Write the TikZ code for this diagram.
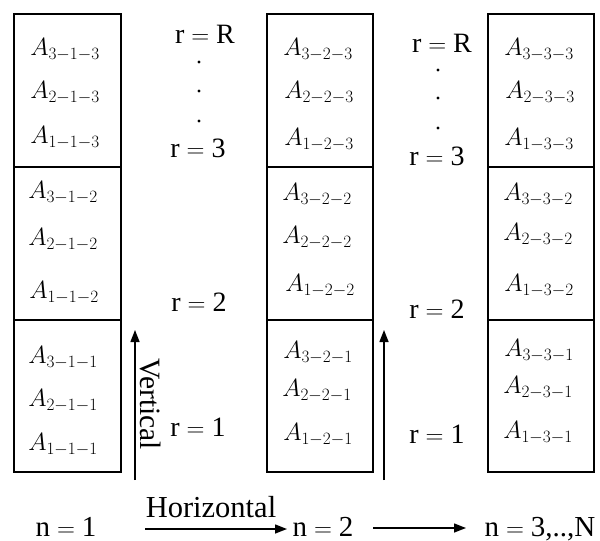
\documentclass[tikz,border=0pt]{standalone}
\usepackage{fontspec}
\setmainfont{Liberation Serif}
\usetikzlibrary{arrows.meta}
\tikzset{
  box/.style={draw, line width=2.7pt},
  cell/.style={font=\fontsize{23.5}{26}\selectfont, inner sep=0pt},
  lab/.style={font=\fontsize{28}{31}\selectfont, inner sep=0pt, anchor=base},
  big/.style={font=\fontsize{29}{32}\selectfont, inner sep=0pt, anchor=base},
  dotmark/.style={circle, fill=black, inner sep=0pt, minimum size=3.4pt},
  arr/.style={line width=1.4pt, -{Triangle[length=12pt,width=9pt]}},
}
\begin{document}
\begin{tikzpicture}[x=1pt,y=-1pt]
\useasboundingbox (0,0) rectangle (600,541);
% boxes
\foreach \l/\r in {14/121, 267/373, 488/594}{
  \draw[box] (\l,14) rectangle (\r,472);
  \draw[box] (\l,167) -- (\r,167);
  \draw[box] (\l,320) -- (\r,320);
}
% box 1 cells
\node[cell] (a313) at (65,50) {$A_{3-1-3}$};
\node[cell] (a213) at (65,93) {$A_{2-1-3}$};
\node[cell] (a113) at (65,138) {$A_{1-1-3}$};
\node[cell] (a312) at (63,193) {$A_{3-1-2}$};
\node[cell] (a212) at (63,240) {$A_{2-1-2}$};
\node[cell] (a112) at (64,293) {$A_{1-1-2}$};
\node[cell] (a311) at (63,358) {$A_{3-1-1}$};
\node[cell] (a211) at (63,401) {$A_{2-1-1}$};
\node[cell] (a111) at (63,445) {$A_{1-1-1}$};
% box 2 cells
\node[cell] (a323) at (318,50) {$A_{3-2-3}$};
\node[cell] (a223) at (319,93) {$A_{2-2-3}$};
\node[cell] (a123) at (319,140) {$A_{1-2-3}$};
\node[cell] (a322) at (317,195) {$A_{3-2-2}$};
\node[cell] (a222) at (317,238) {$A_{2-2-2}$};
\node[cell] (a122) at (320,286) {$A_{1-2-2}$};
\node[cell] (a321) at (318,353) {$A_{3-2-1}$};
\node[cell] (a221) at (317,391) {$A_{2-2-1}$};
\node[cell] (a121) at (318,435) {$A_{1-2-1}$};
% box 3 cells
\node[cell] (a333) at (539,50) {$A_{3-3-3}$};
\node[cell] (a233) at (540,93) {$A_{2-3-3}$};
\node[cell] (a133) at (539,140) {$A_{1-3-3}$};
\node[cell] (a332) at (538,195) {$A_{3-3-2}$};
\node[cell] (a232) at (538,235) {$A_{2-3-2}$};
\node[cell] (a132) at (539,286) {$A_{1-3-2}$};
\node[cell] (a331) at (539,351) {$A_{3-3-1}$};
\node[cell] (a231) at (538,388) {$A_{2-3-1}$};
\node[cell] (a131) at (538,433) {$A_{1-3-1}$};
% r labels, first gap
\node[lab] (rR1) at (205,43) {$\mathrm{r}=\mathrm{R}$};
\node[dotmark] (d11) at (199,62) {};
\node[dotmark] (d12) at (199,91) {};
\node[dotmark] (d13) at (199,121) {};
\node[lab] (r31) at (198,157) {$\mathrm{r}=\mathrm{3}$};
\node[lab] (r21) at (199,311) {$\mathrm{r}=\mathrm{2}$};
\node[lab] (r11) at (198,436) {$\mathrm{r}=\mathrm{1}$};
% r labels, second gap
\node[lab] (rR2) at (442,52) {$\mathrm{r}=\mathrm{R}$};
\node[dotmark] (d21) at (438,70) {};
\node[dotmark] (d22) at (438,98) {};
\node[dotmark] (d23) at (438,128) {};
\node[lab] (r32) at (437,165) {$\mathrm{r}=\mathrm{3}$};
\node[lab] (r22) at (437,318) {$\mathrm{r}=\mathrm{2}$};
\node[lab] (r12) at (437,443) {$\mathrm{r}=\mathrm{1}$};
% vertical arrows
\coordinate (v1s) at (135,480);
\coordinate (v1e) at (135,330);
\draw[arr] (v1s) -- (v1e);
\coordinate (v2s) at (384,480);
\coordinate (v2e) at (384,330);
\draw[arr] (v2s) -- (v2e);
\node[font=\fontsize{29.5}{32}\selectfont, inner sep=0pt, rotate=-90] (vert) at (151,404) {Vertical};
% bottom row
\node[big] (n1) at (66,536) {$\mathrm{n}=\mathrm{1}$};
\node[big] (n2) at (323,536) {$\mathrm{n}=\mathrm{2}$};
\node[big] (n3) at (540,536) {$\mathrm{n}=\mathrm{3}$,..,N};
\coordinate (h1s) at (145,529);
\coordinate (h1e) at (287,529);
\draw[arr] (h1s) -- (h1e);
\coordinate (h2s) at (373,528);
\coordinate (h2e) at (466,528);
\draw[arr] (h2s) -- (h2e);
\node[big, font=\fontsize{30.5}{33}\selectfont] (hor) at (211,517) {Horizontal};
\end{tikzpicture}
\end{document}
